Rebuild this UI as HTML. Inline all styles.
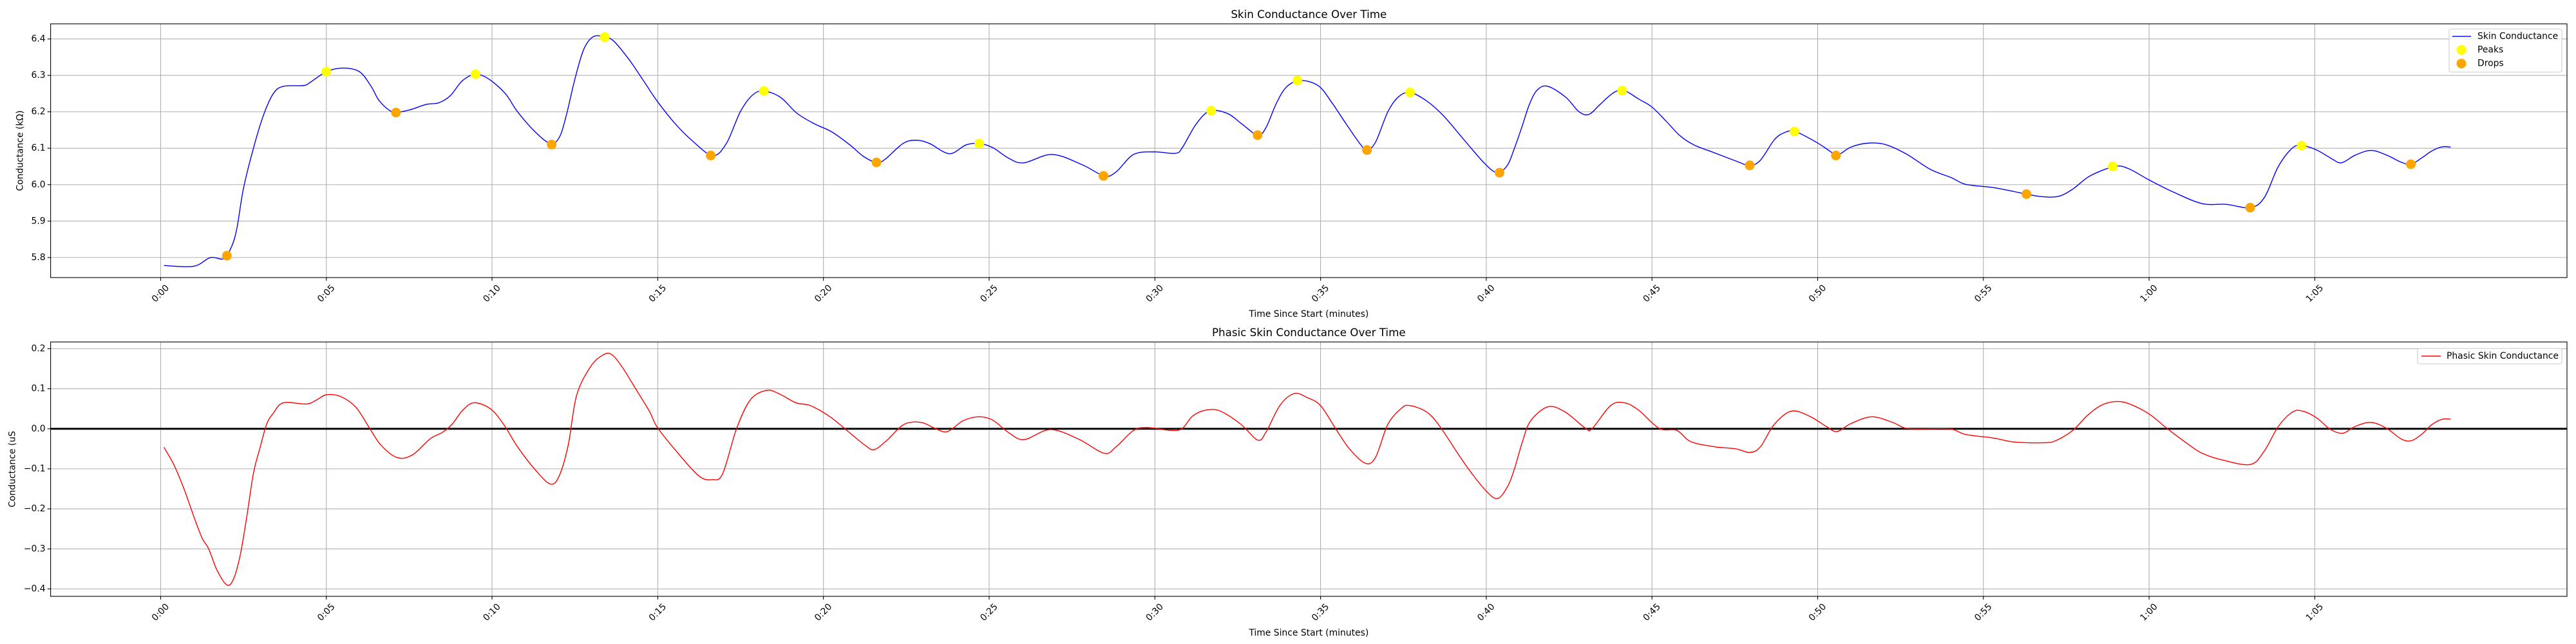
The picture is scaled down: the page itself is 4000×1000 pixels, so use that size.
<!DOCTYPE html>
<html><head><meta charset="utf-8"><style>
html,body{margin:0;padding:0;background:#fff;}
svg{display:block;font-family:"DejaVu Sans","Liberation Sans",sans-serif;}
</style></head>
<body>
<svg id="fig" width="4000" height="1000" viewBox="0 0 4000 1000" xmlns="http://www.w3.org/2000/svg">
<rect x="0" y="0" width="4000" height="1000" fill="#fff"/>
<g id="top"></g>
<g id="bot"></g>
</svg>
<script>
const xTickSeconds=[0,5,10,15,20,25,30,35,40,45,50,55,60,65];
const xTickLabels=["0:00","0:05","0:10","0:15","0:20","0:25","0:30","0:35","0:40","0:45","0:50","0:55","1:00","1:05"];
const topYTicks=[5.8,5.9,6.0,6.1,6.2,6.3,6.4];
const topYLabels=["5.8","5.9","6.0","6.1","6.2","6.3","6.4"];
const botYTicks=[-0.4,-0.3,-0.2,-0.1,0.0,0.1,0.2];
const botYLabels=["\u22120.4","\u22120.3","\u22120.2","\u22120.1","0.0","0.1","0.2"];
const skinT=[0.1,1.0,1.5,1.9,2.14,2.3,2.5,2.8,3.1,3.4,3.7,4.3,4.5,5.0,5.5,6.0,6.35,6.6,7.0,7.5,8.0,8.4,8.75,9.1,9.5,9.9,10.4,10.77,11.3,11.76,12.03,12.24,12.5,12.76,13.03,13.34,13.66,14.13,14.55,14.97,15.5,16.0,16.65,17.07,17.49,17.86,18.2,18.7,19.2,19.73,20.25,20.8,21.2,21.6,21.85,22.4,22.8,23.2,23.8,24.3,24.7,25.1,25.6,26.05,26.9,27.8,28.47,28.83,29.36,30.0,30.62,30.83,31.25,31.67,32.2,32.62,33.1,33.35,33.67,33.98,34.4,34.94,35.35,35.77,36.2,36.4,36.66,37.03,37.35,37.7,38.2,38.7,39.33,39.86,40.18,40.39,40.65,40.85,41.07,41.3,41.54,41.86,42.4,42.8,43.1,43.43,43.85,44.17,44.6,45.0,45.43,45.85,46.27,46.9,47.53,47.95,48.27,48.69,49.0,49.32,49.95,50.37,50.58,51.0,51.52,52.05,52.68,53.4,54.04,54.46,55.3,55.93,56.3,56.78,57.27,57.7,58.22,58.96,59.38,60.0,60.75,61.6,62.33,63.06,63.48,63.9,64.33,64.64,65.06,65.48,65.8,66.22,66.7,67.17,67.6,67.9,68.22,68.54,68.85,69.1];
const skinV=[5.778,5.776,5.80,5.797,5.83,5.88,5.99,6.10,6.19,6.25,6.27,6.272,6.28,6.31,6.32,6.31,6.27,6.23,6.20,6.205,6.22,6.225,6.245,6.285,6.303,6.29,6.25,6.2,6.145,6.113,6.13,6.19,6.29,6.37,6.405,6.407,6.395,6.344,6.288,6.231,6.17,6.124,6.08,6.113,6.2,6.246,6.257,6.24,6.196,6.167,6.145,6.109,6.078,6.061,6.069,6.113,6.122,6.113,6.085,6.109,6.113,6.102,6.072,6.06,6.083,6.055,6.024,6.035,6.083,6.09,6.086,6.102,6.167,6.203,6.195,6.167,6.136,6.156,6.224,6.269,6.286,6.271,6.224,6.167,6.111,6.095,6.117,6.2,6.241,6.253,6.23,6.19,6.123,6.067,6.039,6.033,6.055,6.1,6.157,6.22,6.26,6.27,6.24,6.2,6.193,6.22,6.253,6.258,6.235,6.213,6.174,6.134,6.109,6.087,6.065,6.053,6.067,6.123,6.143,6.146,6.117,6.092,6.08,6.103,6.114,6.11,6.084,6.042,6.019,6.001,5.992,5.981,5.974,5.967,5.968,5.988,6.024,6.05,6.044,6.013,5.979,5.948,5.946,5.937,5.965,6.05,6.101,6.107,6.095,6.073,6.06,6.081,6.094,6.081,6.062,6.056,6.073,6.093,6.104,6.103];
const peakT=[5.0,9.5,13.4,18.2,24.7,31.7,34.3,37.7,44.1,49.3,58.9,64.6];
const peakV=[6.31,6.303,6.405,6.257,6.113,6.203,6.286,6.253,6.258,6.146,6.05,6.107];
const dropT=[2.0,7.1,11.8,16.6,21.6,28.45,33.1,36.4,40.4,47.95,50.55,56.3,63.05,67.9];
const dropV=[5.805,6.198,6.11,6.08,6.061,6.024,6.136,6.095,6.033,6.053,6.08,5.974,5.937,6.056];
const phT=[0.1,0.4,0.7,1.0,1.25,1.45,1.7,2.0,2.2,2.4,2.6,2.8,3.0,3.2,3.4,3.7,4.4,4.7,5.0,5.45,5.9,6.3,6.65,7.14,7.6,8.13,8.5,8.8,9.1,9.45,9.95,10.35,10.77,11.3,11.76,12.03,12.3,12.55,12.97,13.34,13.6,13.92,14.34,14.76,14.97,15.5,16.23,16.65,16.96,17.38,17.8,18.28,18.65,19.17,19.6,20.2,20.85,21.27,21.53,21.9,22.43,22.95,23.37,23.74,24.21,24.68,25.1,25.58,26.05,26.84,27.68,28.47,28.83,29.36,29.78,30.5,30.83,31.14,31.56,31.98,32.6,33.1,33.35,33.77,34.2,34.6,35.0,35.45,35.87,36.35,36.66,37.03,37.45,37.7,38.2,38.6,39.34,39.97,40.34,40.65,40.85,41.1,41.34,41.86,42.38,43.0,43.2,43.75,44.17,44.59,45.22,45.75,46.17,46.9,47.53,47.95,48.27,48.69,49.2,49.74,50.26,50.58,51.0,51.63,52.26,52.68,53.4,54.04,54.46,55.3,55.93,56.78,57.17,57.7,58.12,58.54,58.96,59.38,60.0,60.54,61.17,61.6,62.22,63.06,63.48,63.9,64.33,64.64,65.06,65.48,65.85,66.22,66.7,67.17,67.6,67.9,68.22,68.54,68.85,69.1];
const phV=[-0.046,-0.09,-0.149,-0.219,-0.273,-0.3,-0.353,-0.39,-0.375,-0.316,-0.219,-0.111,-0.047,0.012,0.039,0.065,0.062,0.072,0.085,0.08,0.053,0.002,-0.041,-0.072,-0.065,-0.025,-0.009,0.012,0.045,0.065,0.05,0.011,-0.045,-0.102,-0.138,-0.117,-0.04,0.083,0.155,0.184,0.186,0.155,0.099,0.042,0.006,-0.05,-0.117,-0.127,-0.112,0.001,0.073,0.096,0.088,0.065,0.058,0.03,-0.014,-0.042,-0.052,-0.03,0.011,0.016,0.001,-0.007,0.02,0.03,0.022,-0.009,-0.027,-0.002,-0.025,-0.061,-0.045,-0.004,0.003,-0.004,0.001,0.032,0.047,0.044,0.011,-0.028,-0.009,0.058,0.088,0.078,0.058,0.001,-0.05,-0.086,-0.071,0.011,0.052,0.058,0.042,0.006,-0.086,-0.153,-0.174,-0.143,-0.1,-0.03,0.02,0.055,0.042,0.001,0.001,0.058,0.065,0.047,0.001,-0.004,-0.032,-0.045,-0.05,-0.059,-0.045,0.011,0.044,0.032,0.006,-0.007,0.013,0.03,0.016,0.001,0.0,-0.001,-0.014,-0.023,-0.033,-0.035,-0.03,-0.004,0.032,0.058,0.068,0.063,0.037,0.001,-0.038,-0.061,-0.078,-0.089,-0.055,0.006,0.042,0.044,0.027,-0.002,-0.011,0.006,0.016,0.001,-0.025,-0.03,-0.014,0.011,0.024,0.024];

const NS="http://www.w3.org/2000/svg";
const AX_L=78.6, AX_R=3986;
const xMin=-3.32, xMax=72.61;
function xs(s){return AX_L+(s-xMin)/(xMax-xMin)*(AX_R-AX_L);}
function mkY(top,bot,vTop,vBot){return v=>top+(vTop-v)/(vTop-vBot)*(bot-top);}
function el(tag,attrs,parent,text){const e=document.createElementNS(NS,tag);for(const k in attrs)e.setAttribute(k,attrs[k]);if(text!==undefined)e.textContent=text;parent.appendChild(e);return e;}
function smoothPath(T,V,ys){
  const p=T.map((t,i)=>[xs(t),ys(V[i])]);
  let d="M"+p[0][0].toFixed(2)+","+p[0][1].toFixed(2);
  for(let i=0;i<p.length-1;i++){
    const p0=p[i-1]||p[i],p1=p[i],p2=p[i+1],p3=p[i+2]||p[i+1];
    const c1=[p1[0]+(p2[0]-p0[0])/6,p1[1]+(p2[1]-p0[1])/6];
    const c2=[p2[0]-(p3[0]-p1[0])/6,p2[1]-(p3[1]-p1[1])/6];
    d+=" C"+c1[0].toFixed(2)+","+c1[1].toFixed(2)+" "+c2[0].toFixed(2)+","+c2[1].toFixed(2)+" "+p2[0].toFixed(2)+","+p2[1].toFixed(2);
  }
  return d;
}
function axes(g,top,bot,ys,yt,yl,title,ylabel,ylabelX){
  xTickSeconds.forEach((s,i)=>{
    const x=xs(s);
    const gl=el("line",{x1:x,x2:x,y1:top,y2:bot,stroke:"#b0b0b0","stroke-width":1.1},g);
    
    
    el("line",{x1:x,x2:x,y1:bot,y2:bot+4.9,stroke:"#000","stroke-width":1.1},g);
    const t=el("text",{x:x,y:bot+25,"font-size":"13.9","text-anchor":"middle","dominant-baseline":"central",transform:"rotate(-45 "+x+" "+(bot+25)+")",fill:"#000"},g,xTickLabels[i]);
    
    
  });
  yt.forEach((v,i)=>{
    const y=ys(v);
    const gl=el("line",{x1:AX_L,x2:AX_R,y1:y,y2:y,stroke:"#b0b0b0","stroke-width":1.1},g);
    
    
    el("line",{x1:AX_L-4.9,x2:AX_L,y1:y,y2:y,stroke:"#000","stroke-width":1.1},g);
    const t=el("text",{x:AX_L-8,y:y,"font-size":"13.9","text-anchor":"end","dominant-baseline":"central",fill:"#000"},g,yl[i]);
    
    
  });
  const tt=el("text",{x:(AX_L+AX_R)/2,y:top-9,"font-size":"16.7","text-anchor":"middle",fill:"#000"},g,title);
  
  
  const xl=el("text",{x:(AX_L+AX_R)/2,y:bot+61,"font-size":"13.9","text-anchor":"middle",fill:"#000"},g,"Time Since Start (minutes)");
  
  
  const cy=(top+bot)/2;
  const yl2=el("text",{x:ylabelX,y:cy,"font-size":"13.9","text-anchor":"middle","dominant-baseline":"central",transform:"rotate(-90 "+ylabelX+" "+cy+")",fill:"#000"},g,ylabel);
  
  
}
function frame(g,top,bot){
  const r=el("rect",{x:AX_L,y:top,width:AX_R-AX_L,height:bot-top,fill:"none",stroke:"#000","stroke-width":1.1},g);
  
  
}

// top chart
const gT=document.getElementById("top");
const T_TOP=37,T_BOT=431;
const ysT=mkY(T_TOP,T_BOT,6.4415,5.745);
axes(gT,T_TOP,T_BOT,ysT,topYTicks,topYLabels,"Skin Conductance Over Time","Conductance (k\u03A9)",31.5);
const sl=el("path",{d:smoothPath(skinT,skinV,ysT),fill:"none",stroke:"#0000ff","stroke-width":1.4},gT);


peakT.forEach((t,i)=>{
  const c=el("ellipse",{cx:xs(t),cy:ysT(peakV[i]),rx:7.5,ry:7.5,fill:"#ffff00"},gT);
  
  
});
dropT.forEach((t,i)=>{
  const c=el("ellipse",{cx:xs(t),cy:ysT(dropV[i]),rx:7.5,ry:7.5,fill:"#ffa500"},gT);
  
  
});
frame(gT,T_TOP,T_BOT);
// legend top
const lg=el("g",{},gT);


el("rect",{x:3803,y:45,width:175,height:67,rx:3,fill:"#fff","fill-opacity":0.8,stroke:"#cccccc","stroke-width":1.1},lg);
el("line",{x1:3808,x2:3837,y1:56.4,y2:56.4,stroke:"#0000ff","stroke-width":1.4},lg);
const le1=el("text",{x:3847,y:56.4,"font-size":"13.9","dominant-baseline":"central"},lg,"Skin Conductance");


el("circle",{cx:3822,cy:77.6,r:7.5,fill:"#ffff00"},lg);
const le2=el("text",{x:3847,y:77.6,"font-size":"13.9","dominant-baseline":"central"},lg,"Peaks");


el("circle",{cx:3822,cy:98.7,r:7.5,fill:"#ffa500"},lg);
const le3=el("text",{x:3847,y:98.7,"font-size":"13.9","dominant-baseline":"central"},lg,"Drops");



// bottom chart
const gB=document.getElementById("bot");
const B_TOP=531,B_BOT=926;
const ysB=mkY(B_TOP,B_BOT,0.2169,-0.4185);
axes(gB,B_TOP,B_BOT,ysB,botYTicks,botYLabels,"Phasic Skin Conductance Over Time","Conductance (uS",19.5);
const zl=el("line",{x1:AX_L,x2:AX_R,y1:ysB(0),y2:ysB(0),stroke:"#000","stroke-width":2.8},gB);


const pl=el("path",{d:smoothPath(phT,phV,ysB),fill:"none",stroke:"#ff0000","stroke-width":1.4},gB);


frame(gB,B_TOP,B_BOT);
const lg2=el("g",{},gB);


el("rect",{x:3754,y:541,width:224,height:24,rx:3,fill:"#fff","fill-opacity":0.8,stroke:"#cccccc","stroke-width":1.1},lg2);
el("line",{x1:3760,x2:3790,y1:553,y2:553,stroke:"#ff0000","stroke-width":1.4},lg2);
const le4=el("text",{x:3799,y:553,"font-size":"13.9","dominant-baseline":"central"},lg2,"Phasic Skin Conductance");


</script>
</body></html>
